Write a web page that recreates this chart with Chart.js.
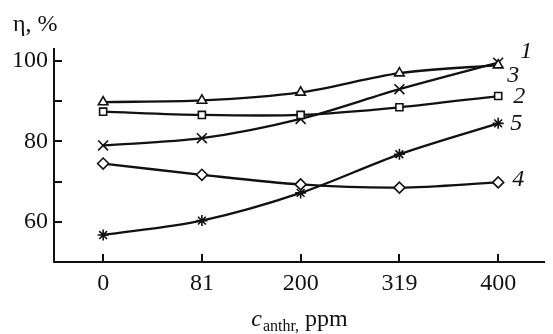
<!DOCTYPE html>
<html>
<head>
<meta charset="utf-8">
<script src="https://cdn.jsdelivr.net/npm/chart.js@4.4.1/dist/chart.umd.min.js"></script>
<style>
  html, body { margin: 0; padding: 0; background: #fff; }
  canvas { display: block; }
</style>
</head>
<body>
<canvas id="chart" width="553" height="334"></canvas>
<script>
// --- データ ---
const xLabels = ["0", "81", "200", "319", "400"];
const yTickLabels = [60, 80, 100];
const yTickMarks = [60, 70, 80, 90, 100];

const series1 = [89.8, 90.2, 92.2, 97.0, 99.0];   // △
const series2 = [87.4, 86.6, 86.6, 88.5, 91.3];   // □
const series3 = [79.0, 80.8, 85.6, 93.0, 99.6];   // ×
const series4 = [74.5, 71.7, 69.3, 68.5, 69.8];   // ◇
const series5 = [56.7, 60.3, 67.2, 76.8, 84.5];   // *

const seriesNames = ["1", "2", "3", "4", "5"];

const SERIF = "'Liberation Serif', 'Times New Roman', Tinos, serif";

const toPoints = arr => arr.map((v, i) => ({ x: i, y: v }));

// 曲線番号の位置（最後の点からのずれ, px）
const labelOffsets = [
  { dx: 28, dy: -13 },
  { dx: 21, dy: 1 },
  { dx: 15, dy: 13 },
  { dx: 20, dy: -3 },
  { dx: 18, dy: 0 }
];

const extras = {
  id: "extras",
  beforeDatasetsDraw(chart) {
    const { ctx, scales: { x, y } } = chart;
    ctx.save();
    ctx.strokeStyle = "#111";
    ctx.lineWidth = 2;
    ctx.beginPath();
    yTickMarks.forEach(v => {
      const py = Math.round(y.getPixelForValue(v));
      ctx.moveTo(x.left, py);
      ctx.lineTo(x.left + 8, py);
    });
    xLabels.forEach((_, i) => {
      const px = Math.round(x.getPixelForValue(i));
      ctx.moveTo(px, y.bottom);
      ctx.lineTo(px, y.bottom - 8);
    });
    ctx.stroke();
    ctx.restore();
  },
  afterDraw(chart) {
    const { ctx, scales: { x, y } } = chart;
    ctx.save();
    ctx.fillStyle = "#111";

    // 縦軸タイトル
    ctx.font = "24px " + SERIF;
    ctx.textBaseline = "alphabetic";
    ctx.textAlign = "left";
    ctx.fillText("η, %", 13, 31);

    // 横軸タイトル c_anthr, ppm
    const mainFont = "italic 24px " + SERIF;
    const subFont = "16px " + SERIF;
    const rest = " ppm";
    ctx.font = mainFont; const w1 = ctx.measureText("c").width;
    ctx.font = subFont; const w2 = ctx.measureText("anthr,").width;
    ctx.font = "24px " + SERIF; const w3 = ctx.measureText(rest).width;
    let tx = 299 - (w1 + w2 + w3) / 2;
    ctx.font = mainFont; ctx.fillText("c", tx, 326); tx += w1 + 1;
    ctx.font = subFont; ctx.fillText("anthr,", tx, 331); tx += w2;
    ctx.font = "24px " + SERIF; ctx.fillText(rest, tx, 326);

    // 曲線番号
    ctx.font = "italic 24px " + SERIF;
    ctx.textAlign = "center";
    ctx.textBaseline = "middle";
    chart.data.datasets.forEach((ds, i) => {
      const last = ds.data[ds.data.length - 1];
      const px = x.getPixelForValue(last.x) + labelOffsets[i].dx;
      const py = y.getPixelForValue(last.y) + labelOffsets[i].dy;
      ctx.fillText(seriesNames[i], px, py);
    });
    ctx.restore();
  }
};

function makeSet(data, style, radius) {
  return {
    data: toPoints(data),
    borderColor: "#111",
    borderWidth: 2.3,
    pointStyle: style,
    pointRadius: radius,
    pointBorderWidth: 1.6,
    pointBorderColor: "#111",
    pointBackgroundColor: "#fff",
    tension: 0.3,
    clip: false
  };
}

new Chart(document.getElementById("chart"), {
  type: "line",
  data: {
    datasets: [
      makeSet(series1, "triangle", 5.5),
      makeSet(series2, "rect", 5),
      makeSet(series3, "crossRot", 7),
      makeSet(series4, "rectRot", 5.5),
      makeSet(series5, "star", 5.5)
    ]
  },
  options: {
    responsive: false,
    animation: false,
    events: [],
    layout: { padding: { top: 49, right: 0, left: 0, bottom: 0 } },
    plugins: { legend: { display: false }, tooltip: { enabled: false } },
    scales: {
      x: {
        type: "linear",
        min: -0.4975,
        max: 4.468,
        afterFit: s => { s.height = 72; },
        afterBuildTicks: s => { s.ticks = xLabels.map((_, i) => ({ value: i })); },
        grid: { display: false, drawTicks: false },
        border: { color: "#111", width: 2 },
        ticks: {
          color: "#111",
          padding: 7,
          font: { family: SERIF, size: 24 },
          maxRotation: 0,
          callback: v => xLabels[v]
        }
      },
      y: {
        min: 50,
        max: 103,
        afterFit: s => { s.width = 54; },
        afterBuildTicks: s => { s.ticks = yTickLabels.map(v => ({ value: v })); },
        grid: { display: false, drawTicks: false },
        border: { color: "#111", width: 2 },
        ticks: {
          color: "#111",
          padding: 6,
          font: { family: SERIF, size: 24 },
          callback: v => String(v)
        }
      }
    }
  },
  plugins: [extras]
});
</script>
</body>
</html>
